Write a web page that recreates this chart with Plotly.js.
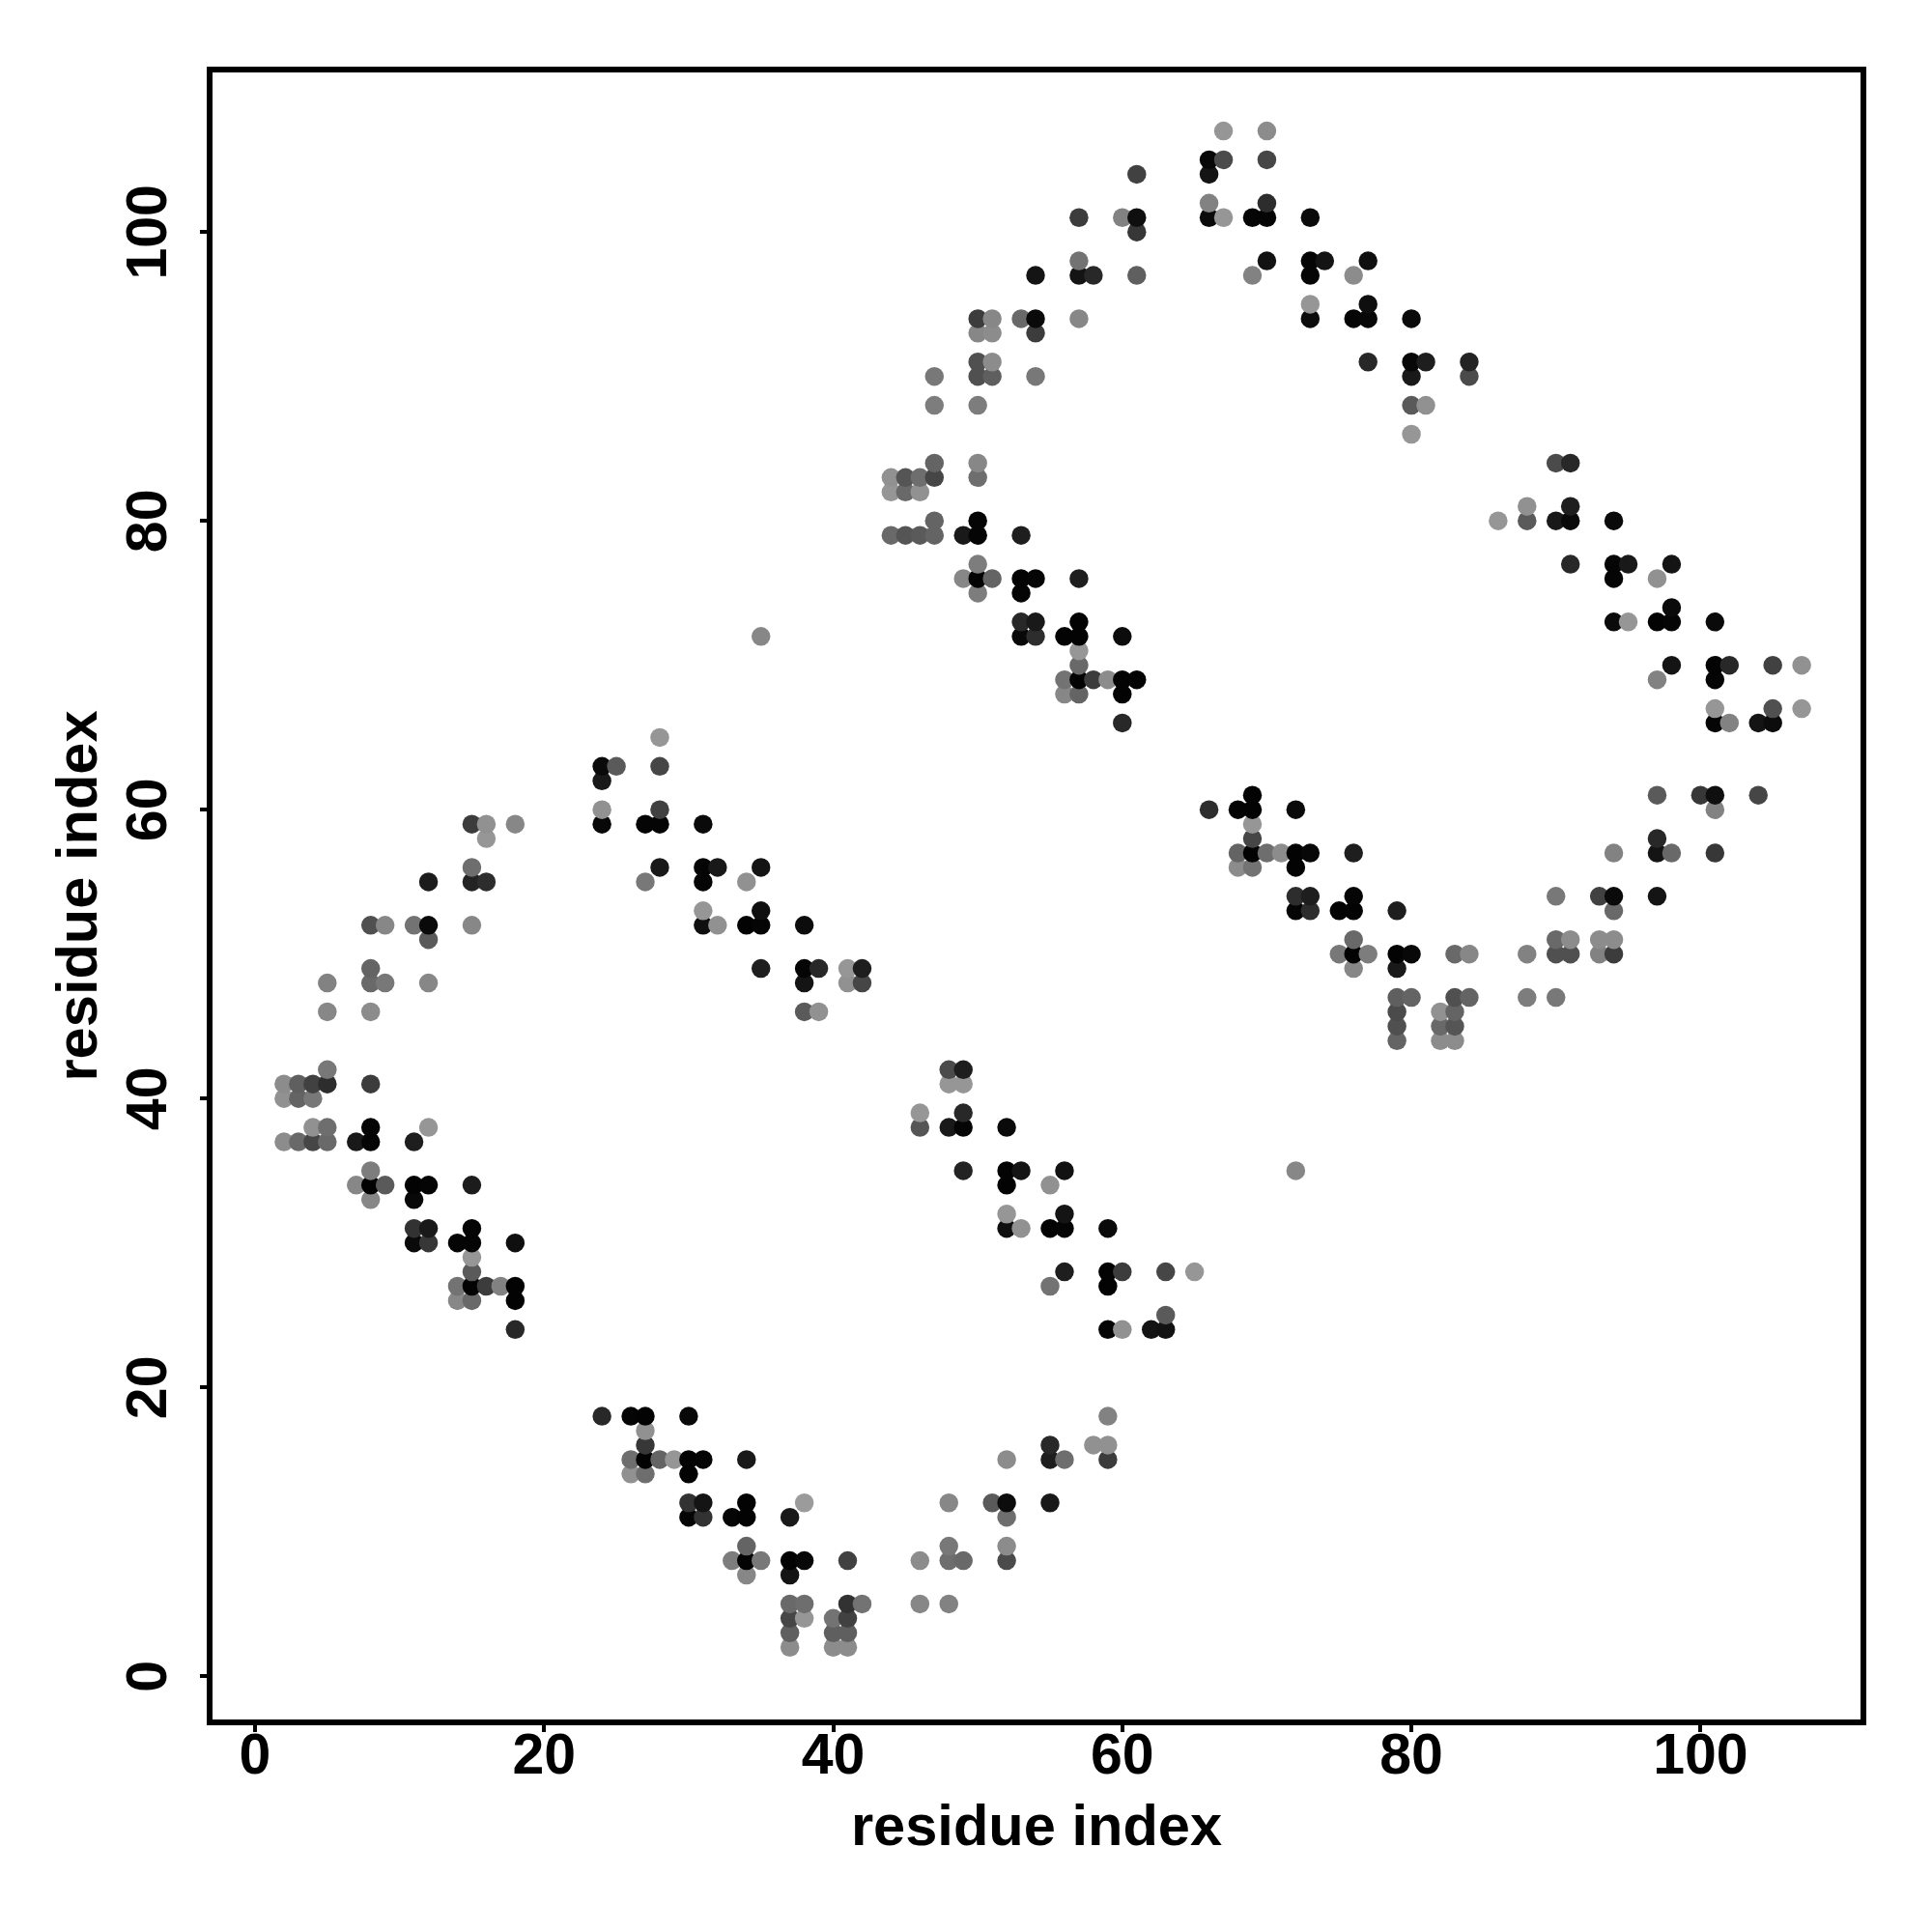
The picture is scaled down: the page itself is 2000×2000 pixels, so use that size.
<!DOCTYPE html>
<html>
<head>
<meta charset="utf-8">
<script src="https://cdn.plot.ly/plotly-3.0.1.min.js"></script>
<style>html,body{margin:0;padding:0;background:#fff}</style>
</head>
<body>
<div id="chart" style="width:2000px;height:2000px"></div>
<script>
// Each contact: [residue x, residue y, grey level 0-255]
const clusterUpperLeft = [
[24,63,10],[25,63,90],[24,62,25],[24,60,145],[24,59,8],[15,59,60],[16,59,145],[16,58,150],[18,59,135],
[15,56,110],[15,55,35],[16,55,45],[12,55,28],[8,52,80],[9,52,135],[11,52,115],[12,52,10],[12,51,90],[15,52,135],
[8,49,100],[8,48,105],[9,48,120],[5,48,130],[12,48,135],[5,46,135],[8,46,140],
[5,42,120],[5,41,45],[4,41,65],[3,41,95],[2,41,140],[8,41,60],[2,40,145],[3,40,100],[4,40,120]
];
const clusterLowerLeft = [
[4,38,145],[5,38,110],[2,37,140],[3,37,105],[4,37,70],[5,37,105],[7,37,25],[8,38,5],[8,37,5],[11,37,30],[12,38,150],
[8,35,125],[7,34,135],[8,34,3],[9,34,90],[8,33,135],[11,34,3],[12,34,5],[11,33,8],[15,34,28],
[11,31,50],[12,31,25],[11,30,10],[12,30,55],[14,30,5],[15,31,5],[15,30,5],[18,30,15],
[15,29,150],[15,28,90],[14,27,115],[15,27,3],[16,27,60],[17,27,130],[18,27,3],[18,26,3],[14,26,135],[15,26,105],[18,24,40]
];
const clusterMiddleLeft = [
[28,65,150],[28,63,70],[28,60,65],[27,59,5],[28,59,5],[31,59,10],
[28,56,25],[27,55,120],[31,56,5],[32,56,25],[31,55,5],[35,56,20],[34,55,145],
[31,53,150],[31,52,15],[32,52,145],[34,52,3],[35,53,15],[35,52,5],[38,52,12],
[35,49,30],[38,49,5],[39,49,40],[38,48,20],[41,49,150],[42,49,30],[41,48,145],[42,48,70],[38,46,90],[39,46,145],
[35,72,135]
];
const clusterBottomLeft = [
[24,18,40],[26,18,5],[27,18,3],[30,18,8],[27,17,145],[27,16,55],[26,15,110],[27,15,3],[28,15,100],[29,15,150],
[30,15,3],[31,15,5],[30,14,3],[34,15,25],[26,14,145],[27,14,110],
[30,12,50],[31,12,20],[30,11,5],[31,11,50],[33,11,5],[34,12,3],[34,11,3],[37,11,25],[38,12,155],
[34,9,100],[33,8,125],[34,8,3],[35,8,120],[34,7,135],[37,8,3],[38,8,8],[37,7,20],[41,8,65],
[37,5,105],[38,5,110],[37,4,70],[38,4,150],[37,3,95],[37,2,140],[40,4,115],[41,5,50],[42,5,115],[41,4,65],[40,3,95],[41,3,95],[40,2,140],[41,2,140]
];
const clusterBottomRight = [
[59,18,130],[58,16,145],[59,16,145],[59,15,60],[55,16,40],[55,15,30],[56,15,110],[52,15,140],
[48,12,135],[51,12,90],[52,12,12],[52,11,110],[55,12,25],[48,9,120],[48,8,110],[49,8,105],[46,8,140],[52,9,140],[52,8,75],
[46,5,135],[48,5,130]
];
const clusterCentre = [
[48,42,75],[49,42,30],[48,41,150],[49,41,150],[46,39,150],[46,38,85],[48,38,25],[49,39,40],[49,38,5],[52,38,10],
[49,35,35],[52,35,3],[53,35,20],[52,34,3],[56,35,18],[55,34,145],
[52,32,150],[52,31,15],[53,31,145],[55,31,3],[56,32,20],[56,31,5],[59,31,10],
[56,28,30],[59,28,3],[60,28,60],[59,27,3],[63,28,70],[65,28,150],[55,27,115],
[63,25,90],[59,24,5],[60,24,145],[62,24,20],[63,24,18],[72,35,135]
];
const clusterUpperCentre = [
[44,83,145],[45,83,85],[46,83,110],[47,83,70],[47,84,100],[50,84,135],[50,83,110],[44,82,150],[45,82,105],[46,82,145],
[47,80,100],[44,79,105],[45,79,85],[46,79,90],[47,79,100],[49,79,25],[50,80,5],[50,79,5],[53,79,30],
[50,77,125],[49,76,135],[50,76,3],[51,76,100],[50,75,125],[53,76,3],[54,76,5],[53,75,5],[57,76,30],
[53,73,40],[54,73,25],[53,72,8],[54,72,45],[56,72,3],[57,73,3],[57,72,3],[60,72,12],
[57,71,150],[57,70,105],[56,69,115],[57,69,3],[58,69,60],[59,69,140],[60,69,3],[61,69,3],[60,68,3],[56,68,135],[57,68,100],[60,66,40]
];
const clusterTopLeft = [
[61,104,65],[57,101,60],[60,101,130],[61,101,15],[61,100,55],[57,98,115],[57,97,20],[58,97,40],[54,97,20],[61,97,95],
[50,94,60],[51,94,135],[53,94,105],[54,94,10],[54,93,60],[57,94,135],[50,93,135],[51,93,140],
[50,91,80],[51,91,140],[50,90,80],[51,90,95],[54,90,120],[47,90,120],[47,88,125],[50,88,125]
];
const clusterTopRight = [
[67,107,150],[70,107,140],[66,105,8],[67,105,75],[70,105,70],[66,104,20],[66,102,130],[66,101,10],[67,101,150],[69,101,5],[70,101,5],[70,102,45],[73,101,10],
[70,98,18],[69,97,130],[73,98,5],[74,98,20],[73,97,5],[77,98,15],[76,97,140],
[73,95,150],[73,94,12],[76,94,5],[77,95,15],[77,94,8],[80,94,10],
[77,91,40],[80,91,8],[81,91,30],[80,90,25],[84,91,35],[84,90,75],[80,88,90],[81,88,145],[80,86,150]
];
const clusterFarRight = [
[90,84,75],[91,84,40],[88,81,145],[86,80,150],[88,80,90],[90,80,25],[91,81,30],[91,80,10],[94,80,10],
[91,77,40],[94,77,5],[95,77,25],[94,76,5],[98,77,20],[97,76,145],
[94,73,10],[95,73,150],[97,73,3],[98,74,10],[98,73,5],[101,73,10],
[98,70,20],[97,69,130],[101,70,3],[102,70,40],[101,69,5],[105,70,65],[107,70,145],
[101,67,150],[101,66,5],[102,66,130],[104,66,20],[105,67,80],[105,66,12],[107,67,150]
];
const clusterRightCentre = [
[66,60,45],[69,61,3],[68,60,3],[69,60,3],[72,60,10],[69,59,150],[69,58,70],[68,57,100],[69,57,3],[70,57,110],[71,57,140],
[72,57,3],[73,57,8],[72,56,3],[76,57,30],[68,56,140],[69,56,115],
[72,54,45],[73,54,30],[72,53,5],[73,53,45],[75,53,3],[76,54,5],[76,53,3],[79,53,30],
[76,51,105],[75,50,120],[76,50,3],[77,50,125],[76,49,135],[79,50,3],[80,50,8],[79,49,25],[83,50,105],[84,50,135],
[79,47,95],[80,47,100],[79,46,75],[79,45,80],[79,44,100],[82,46,145],[83,47,80],[84,47,100],[83,46,100],[82,45,105],[83,45,85],[82,44,140],[83,44,140]
];
const clusterLowerRight = [
[97,61,90],[100,61,55],[101,61,15],[101,60,130],[104,61,70],[97,58,40],[97,57,20],[98,57,105],[94,57,130],[101,57,55],
[90,54,120],[93,54,65],[94,54,10],[94,53,105],[97,54,20],
[90,51,105],[91,51,140],[93,51,140],[94,51,140],[90,50,80],[91,50,80],[93,50,130],[94,50,60],[88,50,130],[88,47,125],[90,47,120]
];
const tickValues = [0,20,40,60,80,100];
const axisName = "residue index";

// Later residues are painted over earlier ones, as in the reference.
const contacts = [].concat(clusterUpperLeft, clusterLowerLeft, clusterMiddleLeft, clusterBottomLeft,
  clusterBottomRight, clusterCentre, clusterUpperCentre, clusterTopLeft, clusterTopRight,
  clusterFarRight, clusterRightCentre, clusterLowerRight)
  .sort((a,b) => a[0]-b[0] || a[1]-b[1]);

const family = '"Liberation Sans", Arial, sans-serif';
const tickFont = {family:family, size:59, color:'#000', weight:'bold'};
const titleFont = {family:family, size:59.6, color:'#000', weight:'bold'};
const axisBase = {
  tickmode:'array', tickvals:tickValues, ticktext:tickValues.map(String),
  showgrid:false, zeroline:false, showline:true, mirror:true, linecolor:'#000', linewidth:6,
  ticks:'outside', ticklen:7, tickwidth:4, tickcolor:'#000', tickfont:tickFont
};
Plotly.newPlot('chart', [{
  type:'scatter', mode:'markers',
  x:contacts.map(c=>c[0]), y:contacts.map(c=>c[1]),
  marker:{size:19.5, line:{width:0}, color:contacts.map(c=>`rgb(${c[2]},${c[2]},${c[2]})`)},
  hoverinfo:'x+y'
}], {
  width:2000, height:2000, showlegend:false, paper_bgcolor:'#fff', plot_bgcolor:'#fff',
  margin:{l:220, r:74, t:75, b:220, pad:0},
  xaxis:Object.assign({}, axisBase, {range:[-2.94,111.07], ticklabelstandoff:-28,
    title:{text:axisName, font:titleFont, standoff:22}}),
  yaxis:Object.assign({}, axisBase, {range:[-3.0,111.05], tickangle:-90, ticklabelstandoff:11, ticklabelshift:9,
    title:{text:axisName, font:titleFont, standoff:2}})
}, {displayModeBar:false});
</script>
</body>
</html>
